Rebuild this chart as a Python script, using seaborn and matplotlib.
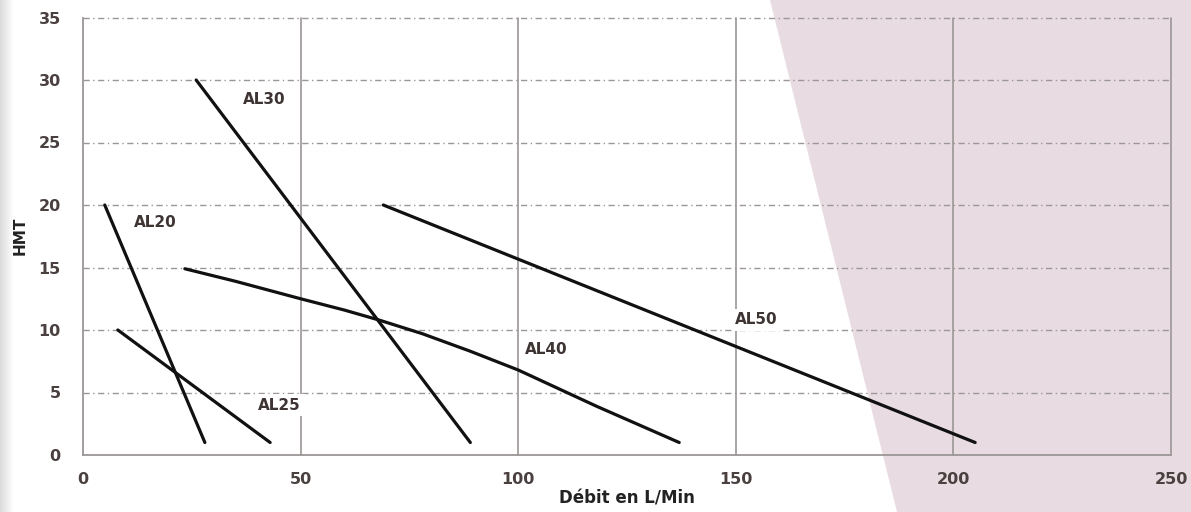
import numpy as np
import pandas as pd
import matplotlib
matplotlib.use("Agg")
import matplotlib.pyplot as plt
from matplotlib.patches import Polygon, Rectangle
import seaborn as sns

# ---- data ----
al20_x = [5, 28]
al20_y = [20, 1]
al25_x = [8, 43]
al25_y = [10, 1]
al30_x = [26, 89]
al30_y = [30, 1]
al40_x = [23.4, 35, 50, 60, 68, 78, 89, 100, 118, 137]
al40_y = [14.9, 13.9, 12.5, 11.6, 10.8, 9.7, 8.3, 6.8, 3.9, 1]
al50_x = [69, 205]
al50_y = [20, 1]

labels = ["AL20", "AL25", "AL30", "AL40", "AL50"]
label_x = [16.5, 45.2, 41.7, 106.4, 154.8]
label_y = [18.6, 4.0, 28.4, 8.4, 10.8]

x_ticks = [0, 50, 100, 150, 200, 250]
y_ticks = [0, 5, 10, 15, 20, 25, 30, 35]

series = {"AL20": (al20_x, al20_y), "AL25": (al25_x, al25_y),
          "AL30": (al30_x, al30_y), "AL40": (al40_x, al40_y),
          "AL50": (al50_x, al50_y)}
rows = []
for name, (xs, ys) in series.items():
    for i, (xv, yv) in enumerate(zip(xs, ys)):
        rows.append({"model": name, "order": i, "debit": xv, "hmt": yv})
df = pd.DataFrame(rows)

sns.set_theme(style="white")
plt.rcParams['font.family'] = ['DejaVu Sans']

fig = plt.figure(figsize=(11.91, 5.12), dpi=100)
fig.patch.set_facecolor("white")

# decorative background: pink diagonal panel and grey left edge
fig.patches.append(Polygon([(770/1191, 1), (897/1191, 0), (1, 0), (1, 1)],
                           closed=True, transform=fig.transFigure,
                           facecolor="#e8dce2", edgecolor="none", zorder=-2))
for i, a in enumerate(np.linspace(0.45, 0.0, 14)):
    fig.patches.append(Rectangle((i/1191, 0), 1/1191, 1, transform=fig.transFigure,
                                 facecolor="#b0b0b0", alpha=a, edgecolor="none", zorder=-2))

ax = fig.add_axes([83/1191, (512-455)/512, (1171-83)/1191, (455-17.5)/512])
ax.set_facecolor("none")
ax.set_zorder(1)

sns.lineplot(data=df, x="debit", y="hmt", hue="model", units="model",
             estimator=None, sort=False, palette=["#111111"]*5,
             linewidth=2.3, legend=False, ax=ax, zorder=3)

ax.set_xlim(0, 250)
ax.set_ylim(0, 35)
ax.set_xticks(x_ticks)
ax.set_yticks(y_ticks)

grid_c = "#9c9696"
for yv in y_ticks[1:]:
    ax.axhline(yv, color=grid_c, linewidth=1.0, linestyle=(0, (4.5, 2.5, 1, 2.5)),
               zorder=1, clip_on=False)
for xv in x_ticks[1:]:
    ax.axvline(xv, color=grid_c, linewidth=1.2, zorder=1, clip_on=False)

for s in ["top", "right"]:
    ax.spines[s].set_visible(False)
for s in ["left", "bottom"]:
    ax.spines[s].set_color(grid_c)
    ax.spines[s].set_linewidth(1.3)

tick_c = "#4a4040"
ax.tick_params(axis="both", length=0, labelsize=11.5, labelcolor=tick_c)
ax.tick_params(axis="x", pad=12)
ax.tick_params(axis="y", pad=16)
for t in ax.get_xticklabels() + ax.get_yticklabels():
    t.set_fontweight("bold")

ax.set_xlabel("Débit en L/Min", fontsize=12, fontweight="bold", color="#222222", labelpad=2)
ax.set_ylabel("HMT", fontsize=11, fontweight="bold", color="#222222", labelpad=8)

for lab, lx, ly in zip(labels, label_x, label_y):
    ax.text(lx, ly, lab, fontsize=11, fontweight="bold", color="#3e3434",
            ha="center", va="center", zorder=4,
            bbox=dict(facecolor="white", edgecolor="none", pad=2.5))

fig.savefig("out.png", dpi=100)
